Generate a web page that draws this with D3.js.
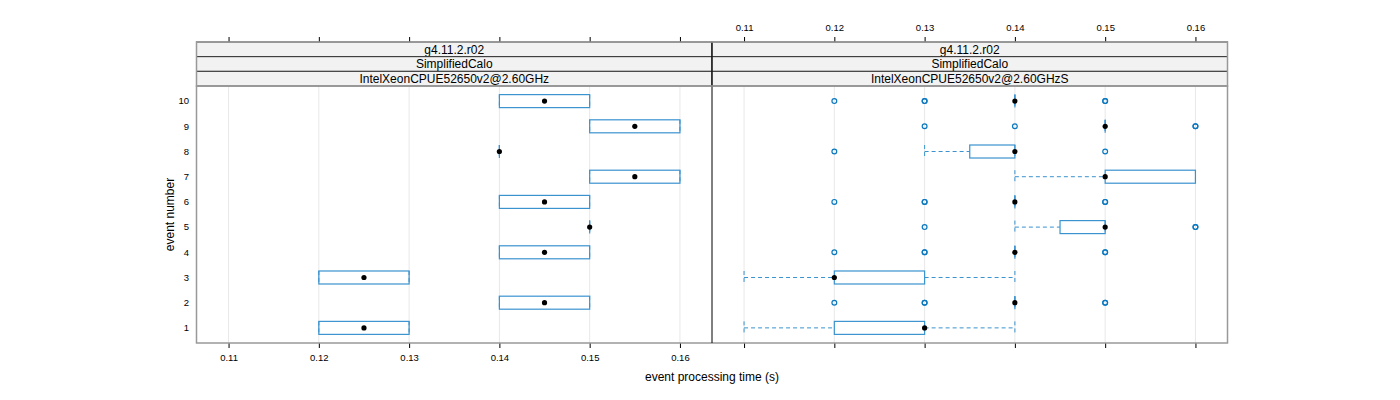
<!DOCTYPE html>
<html><head><meta charset="utf-8">
<script src="https://cdn.jsdelivr.net/npm/d3@7"></script>
<style>body{margin:0;background:#fff}svg{display:block}text{font-family:"Liberation Sans",Arial,sans-serif}</style>
</head><body><svg id="c" width="1400" height="400"></svg>
<script>
const events = [1,2,3,4,5,6,7,8,9,10];
const xTicks = [0.11,0.12,0.13,0.14,0.15,0.16];
const stripLabels1 = ["g4.11.2.r02","SimplifiedCalo","IntelXeonCPUE52650v2@2.60GHz"];
const stripLabels2 = ["g4.11.2.r02","SimplifiedCalo","IntelXeonCPUE52650v2@2.60GHzS"];
// box stats per event: [lower whisker, q1, median, q3, upper whisker]
const stats1 = [
  [0.12,0.12,0.125,0.13,0.13],
  [0.14,0.14,0.145,0.15,0.15],
  [0.12,0.12,0.125,0.13,0.13],
  [0.14,0.14,0.145,0.15,0.15],
  [0.15,0.15,0.15,0.15,0.15],
  [0.14,0.14,0.145,0.15,0.15],
  [0.15,0.15,0.155,0.16,0.16],
  [0.14,0.14,0.14,0.14,0.14],
  [0.15,0.15,0.155,0.16,0.16],
  [0.14,0.14,0.145,0.15,0.15]
];
const outliers1 = [[],[],[],[],[],[],[],[],[],[]];
const stats2 = [
  [0.11,0.12,0.13,0.13,0.14],
  [0.14,0.14,0.14,0.14,0.14],
  [0.11,0.12,0.12,0.13,0.14],
  [0.14,0.14,0.14,0.14,0.14],
  [0.14,0.145,0.15,0.15,0.15],
  [0.14,0.14,0.14,0.14,0.14],
  [0.14,0.15,0.15,0.16,0.16],
  [0.13,0.135,0.14,0.14,0.14],
  [0.15,0.15,0.15,0.15,0.15],
  [0.14,0.14,0.14,0.14,0.14]
];
const outliers2 = [
  [],
  [0.12,0.13,0.13,0.15,0.15],
  [],
  [0.12,0.13,0.13,0.15,0.15],
  [0.13,0.16,0.16],
  [0.12,0.13,0.13,0.15,0.15],
  [],
  [0.12,0.15],
  [0.13,0.14,0.16,0.16],
  [0.12,0.13,0.13,0.15,0.15]
];

const svg = d3.select("#c");
const pTop = 86, pBottom = 343, stripTop = 42, stripH = 14.67;
const xDomain = [0.10645, 0.16355];
const y = d3.scaleLinear().domain([0.4,10.6]).range([pBottom, pTop]);
const panels = [
  {x: d3.scaleLinear().domain(xDomain).range([196.5,712]), stats: stats1, out: outliers1, strips: stripLabels1, topLabels:false, bottomLabels:true},
  {x: d3.scaleLinear().domain(xDomain).range([712,1227.5]), stats: stats2, out: outliers2, strips: stripLabels2, topLabels:true, bottomLabels:false}
];
const boxCol = "#3a93cf", outCol = "#0a78c0";
const hh = 6.5;

panels.forEach((p,pi) => {
  const [x0,x1] = p.x.range();
  const g = svg.append("g");
  g.selectAll("line.grid").data(xTicks).join("line")
    .attr("x1", d=>p.x(d)).attr("x2", d=>p.x(d)).attr("y1", pTop).attr("y2", pBottom)
    .attr("stroke", "#e8e8e8").attr("stroke-width", 1);
  p.strips.forEach((s,i) => {
    const sy = stripTop + i*stripH;
    g.append("rect").attr("x", x0).attr("y", sy).attr("width", x1-x0).attr("height", stripH)
      .attr("fill", "#f2f2f2").attr("stroke", "#333").attr("stroke-width", 1);
    g.append("text").attr("x", (x0+x1)/2).attr("y", sy+stripH/2+4.3).attr("text-anchor","middle")
      .attr("font-size", 12).attr("fill", "#000").text(s);
  });
  const ta = d3.axisTop(p.x).tickValues(xTicks).tickSize(5).tickSizeOuter(0);
  const tg = g.append("g").attr("transform", `translate(0,${stripTop})`).call(ta);
  tg.select(".domain").remove();
  tg.selectAll("line").attr("stroke","#000");
  tg.selectAll("text").attr("font-size",9.5).attr("fill","#000").attr("dy","-0.3em").text(d => p.topLabels ? (+d).toString() : "");
  const ba = d3.axisBottom(p.x).tickValues(xTicks).tickSize(5).tickSizeOuter(0);
  const bg = g.append("g").attr("transform", `translate(0,${pBottom})`).call(ba);
  bg.select(".domain").remove();
  bg.selectAll("line").attr("stroke","#000");
  bg.selectAll("text").attr("font-size",9.5).attr("fill","#000").attr("dy","1.1em").text(d => p.bottomLabels ? (+d).toString() : "");

  p.stats.forEach((s,i) => {
    const cy = y(events[i]);
    const [lw,q1,med,q3,uw] = s;
    const wg = g.append("g").attr("stroke", boxCol).attr("stroke-width",1).attr("stroke-dasharray","4,3");
    if (lw < q1) wg.append("line").attr("x1",p.x(lw)).attr("x2",p.x(q1)).attr("y1",cy).attr("y2",cy);
    if (uw > q3) wg.append("line").attr("x1",p.x(q3)).attr("x2",p.x(uw)).attr("y1",cy).attr("y2",cy);
    wg.append("line").attr("x1",p.x(lw)).attr("x2",p.x(lw)).attr("y1",cy-hh).attr("y2",cy+hh);
    wg.append("line").attr("x1",p.x(uw)).attr("x2",p.x(uw)).attr("y1",cy-hh).attr("y2",cy+hh);
    if (q3 > q1) {
      g.append("rect").attr("x",p.x(q1)).attr("y",cy-hh).attr("width",p.x(q3)-p.x(q1)).attr("height",2*hh)
        .attr("fill","none").attr("stroke",boxCol).attr("stroke-width",1.2);
    } else {
      g.append("line").attr("x1",p.x(q1)).attr("x2",p.x(q1)).attr("y1",cy-hh).attr("y2",cy+hh)
        .attr("stroke",boxCol).attr("stroke-width",1.2);
    }
    g.append("circle").attr("cx",p.x(med)).attr("cy",cy).attr("r",2.6).attr("fill","#000");
    g.selectAll(null).data(p.out[i]).join("circle")
      .attr("cx", d=>p.x(d)).attr("cy", cy).attr("r",2.4)
      .attr("fill","none").attr("stroke",outCol).attr("stroke-width",1.2);
  });
});

svg.append("rect").attr("x",196.5).attr("y",86).attr("width",1031).attr("height",257)
  .attr("fill","none").attr("stroke","#999").attr("stroke-width",1.5);
svg.append("line").attr("x1",712).attr("x2",712).attr("y1",42).attr("y2",343).attr("stroke","#000").attr("stroke-width",1);
svg.append("rect").attr("x",196.5).attr("y",42).attr("width",1031).attr("height",44)
  .attr("fill","none").attr("stroke","#999").attr("stroke-width",1.5);

svg.selectAll("text.ylab").data(events).join("text")
  .attr("x",189).attr("y",d=>y(d)+3.3).attr("text-anchor","end").attr("font-size",9.5).attr("fill","#000").text(d=>d);

svg.append("text").attr("transform",`translate(174,${(pTop+pBottom)/2}) rotate(-90)`).attr("text-anchor","middle")
  .attr("font-size",12).attr("fill","#000").text("event number");
svg.append("text").attr("x",712).attr("y",381).attr("text-anchor","middle")
  .attr("font-size",12).attr("fill","#000").text("event processing time (s)");
</script></body></html>
